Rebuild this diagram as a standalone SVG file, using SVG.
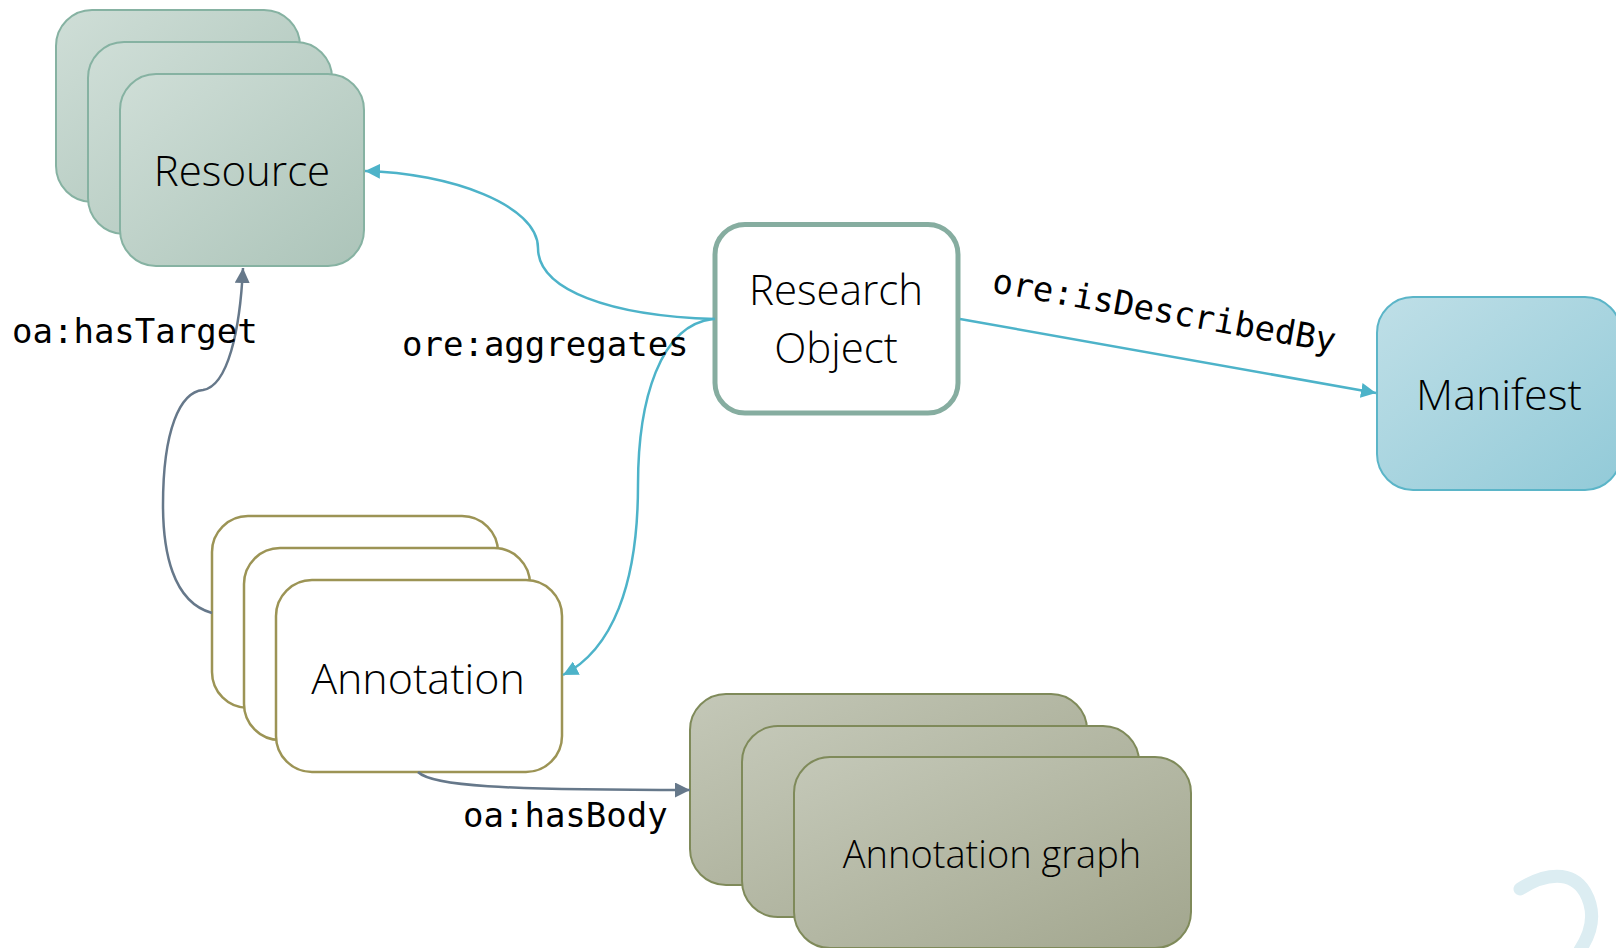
<svg xmlns="http://www.w3.org/2000/svg" width="1616" height="948" viewBox="0 0 1616 948">
  <style>
    .label { font-family: "Open Sans", "Noto Sans", "Liberation Sans", sans-serif; font-weight: 350; fill: #000; text-anchor: middle; }
    .edge-label { font-family: "DejaVu Sans Mono", "Liberation Mono", monospace; font-size: 34px; fill: #000; }
    .res { fill: url(#gRes); stroke: #86b2a2; stroke-width: 2; }
    .ann { fill: #fff; stroke: #9c9455; stroke-width: 2.5; }
    .graph { fill: url(#gGraph); stroke: #7f8a5a; stroke-width: 2; }
    .teal { fill: none; stroke: #4db3c9; stroke-width: 2.5; }
    .slate { fill: none; stroke: #66788a; stroke-width: 2.5; }
  </style>
  <defs>
    <linearGradient id="gRes" x1="0" y1="0" x2="1" y2="1">
      <stop offset="0" stop-color="#cfded7"/>
      <stop offset="1" stop-color="#acc4b9"/>
    </linearGradient>
    <linearGradient id="gMan" x1="0" y1="0" x2="1" y2="1">
      <stop offset="0" stop-color="#bfdfe7"/>
      <stop offset="1" stop-color="#92cad8"/>
    </linearGradient>
    <linearGradient id="gGraph" x1="0" y1="0" x2="1" y2="1">
      <stop offset="0" stop-color="#c4c8b8"/>
      <stop offset="1" stop-color="#a2a68e"/>
    </linearGradient>
    <marker id="arrTeal" viewBox="0 0 10 10" refX="10" refY="5" markerWidth="6" markerHeight="6" orient="auto" markerUnits="strokeWidth">
      <path d="M0,0 L10,5 L0,10 z" fill="#4db3c9"/>
    </marker>
    <marker id="arrSlate" viewBox="0 0 10 10" refX="10" refY="5" markerWidth="6" markerHeight="6" orient="auto" markerUnits="strokeWidth">
      <path d="M0,0 L10,5 L0,10 z" fill="#66788a"/>
    </marker>
  </defs>

  <rect width="1616" height="948" fill="#fff"/>

  <!-- corner ornament -->
  <path d="M1520,889 C1545,873 1572,870 1585,892 C1598,915 1590,935 1580,950" fill="none" stroke="#dcedf2" stroke-width="13" stroke-linecap="round"/>

  <g id="resource">
    <rect class="res" x="56" y="10" width="244" height="192" rx="36"/>
    <rect class="res" x="88" y="42" width="244" height="192" rx="36"/>
    <rect class="res" x="120" y="74" width="244" height="192" rx="36"/>
    <text class="label" x="242" y="186" font-size="42">Resource</text>
  </g>

  <g id="research-object">
    <rect x="715" y="224.5" width="243" height="188.5" rx="30" fill="#fff" stroke="#86ada0" stroke-width="5"/>
    <text class="label" x="836" y="305" font-size="42">Research</text>
    <text class="label" x="836" y="363" font-size="42">Object</text>
  </g>

  <g id="manifest">
    <rect x="1377" y="297" width="244" height="193" rx="36" fill="url(#gMan)" stroke="#5bb5c8" stroke-width="2"/>
    <text class="label" x="1499" y="410" font-size="43">Manifest</text>
  </g>

  <g id="annotation">
    <rect class="ann" x="212" y="516" width="286" height="192" rx="36"/>
    <rect class="ann" x="244" y="548" width="286" height="192" rx="36"/>
    <rect class="ann" x="276" y="580" width="286" height="192" rx="36"/>
    <text class="label" x="418" y="694" font-size="43">Annotation</text>
  </g>

  <g id="annotation-graph">
    <rect class="graph" x="690" y="694" width="397" height="191" rx="36"/>
    <rect class="graph" x="742" y="726" width="397" height="191" rx="36"/>
    <rect class="graph" x="794" y="757" width="397" height="191" rx="36"/>
    <text class="label" x="992" y="868" font-size="38">Annotation graph</text>
  </g>

  <g id="connectors">
    <!-- ore:aggregates -> Resource -->
    <path class="teal" d="M715,319 C610,316 538,290 538,248 C538,205 450,173 365,171" marker-end="url(#arrTeal)"/>
    <!-- ore:aggregates -> Annotation -->
    <path class="teal" d="M713,319 C660,325 638,400 638,485 C638,585 612,650 563,675" marker-end="url(#arrTeal)"/>
    <!-- ore:isDescribedBy -->
    <path class="teal" d="M960,319 L1376,393" marker-end="url(#arrTeal)"/>
    <!-- oa:hasTarget -->
    <path class="slate" d="M212,613 C172,602 163,550 163,505 C163,430 180,392 203,390 C228,386 240,330 243,268" marker-end="url(#arrSlate)"/>
    <!-- oa:hasBody -->
    <path class="slate" d="M418,772 C432,786 500,790 690,790" marker-end="url(#arrSlate)"/>

    <text class="edge-label" x="12" y="343">oa:hasTarget</text>
    <text class="edge-label" x="402" y="356">ore:aggregates</text>
    <text class="edge-label" x="463" y="827">oa:hasBody</text>
    <text class="edge-label" x="991" y="292" transform="rotate(10 991 292)">ore:isDescribedBy</text>
  </g>
</svg>
